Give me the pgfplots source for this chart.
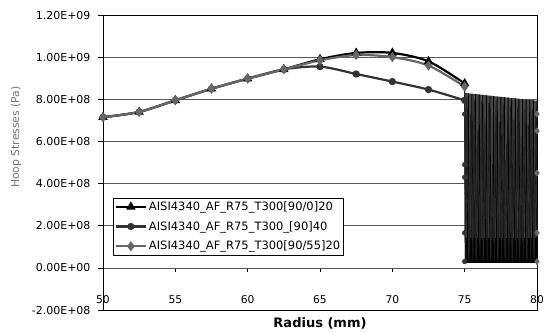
\documentclass[border=0pt]{standalone}
\usepackage{fontspec}
\setmainfont{DejaVu Sans}
\usepackage{pgfplots}
\pgfplotsset{compat=1.18}
\begin{document}
\begin{tikzpicture}
\useasboundingbox (-103bp,-23bp) rectangle (443bp,310bp);
% x axis drawn at y = 0
\begin{axis}[scale only axis, width=434bp, height=295bp, at={(0,0)}, anchor=south west,
  xmin=50, xmax=80, ymin=-2e8, ymax=1.2e9,
  axis x line=middle, axis y line=none,
  axis line style={-, black, line width=0.6bp},
  xtick={50,55,60,65,70,75,80}, tick align=outside, major tick length=4bp,
  tick style={black, line width=0.6bp},
  /pgf/number format/assume math mode=true,
  xticklabel style={font=\fontsize{10.7bp}{13bp}\selectfont, anchor=center, yshift=-28bp},
]
\end{axis}
\begin{axis}[scale only axis, width=434bp, height=295bp, at={(0,0)}, anchor=south west,
  xmin=50, xmax=80, ymin=-2e8, ymax=1.2e9,
  xtick=\empty,
  ytick={-2e8,0,2e8,4e8,6e8,8e8,1e9,1.2e9},
  yticklabels={-2.00E+08,0.00E+00,2.00E+08,4.00E+08,6.00E+08,8.00E+08,1.00E+09,1.20E+09},
  scaled y ticks=false,
  ytick pos=left, tick align=outside, major tick length=5bp,
  tick style={black, line width=0.6bp},
  ymajorgrids, grid style={black!65, line width=0.6bp},
  axis line style={black, line width=0.6bp},
  yticklabel style={font=\fontsize{11bp}{13bp}\selectfont, xshift=-4bp},
  every axis y label/.style={at={(axis description cs:-0.2,0.586)}, rotate=90, anchor=center,
     font=\fontsize{10.8bp}{13bp}\selectfont, text=black!55},
  ylabel={Hoop Stresses (Pa)},
  every axis x label/.style={at={(axis description cs:0.5,-0.047)}, anchor=center,
     font=\bfseries\fontsize{13bp}{15bp}\selectfont},
  xlabel={Radius (mm)},
  legend style={at={(0.023,0.38)}, anchor=north west, draw=black, line width=0.6bp, fill=white,
     font=\fontsize{11.5bp}{13bp}\selectfont, row sep=5.5bp, inner sep=1.5bp},
  legend cell align=left,
  legend image code/.code={\draw[mark repeat=2,mark phase=2,#1] plot coordinates {(0bp,0bp) (15bp,0bp) (30bp,0bp)};},
]
% envelope of the dense region 75-80 mm
\addplot[draw=none, fill=black!72, forget plot] coordinates {
(75,0.25e8) (75,8.3e8) (76,8.23e8) (77,8.15e8) (78,8.08e8) (79,8.01e8) (80,7.93e8) (80,0.25e8)} -- cycle;
\addplot[draw=none, fill=black, forget plot] coordinates {
(75,0.25e8) (75,1.4e8) (80,1.4e8) (80,0.25e8)} -- cycle;
% dense oscillating data 75-80 mm
\addplot[black, line width=0.9bp, forget plot] coordinates {
(75,8.75e8)
(75.0625,0.25e8) (75.125,1.4e8) (75.1875,0.25e8) (75.25,8.28e8)
(75.3125,0.25e8) (75.375,1.4e8) (75.4375,0.25e8) (75.5,8.26e8)
(75.5625,0.25e8) (75.625,1.4e8) (75.6875,0.25e8) (75.75,8.24e8)
(75.8125,0.25e8) (75.875,1.4e8) (75.9375,0.25e8) (76,8.23e8)
(76.0625,0.25e8) (76.125,1.4e8) (76.1875,0.25e8) (76.25,8.21e8)
(76.3125,0.25e8) (76.375,1.4e8) (76.4375,0.25e8) (76.5,8.19e8)
(76.5625,0.25e8) (76.625,1.4e8) (76.6875,0.25e8) (76.75,8.17e8)
(76.8125,0.25e8) (76.875,1.4e8) (76.9375,0.25e8) (77,8.15e8)
(77.0625,0.25e8) (77.125,1.4e8) (77.1875,0.25e8) (77.25,8.13e8)
(77.3125,0.25e8) (77.375,1.4e8) (77.4375,0.25e8) (77.5,8.12e8)
(77.5625,0.25e8) (77.625,1.4e8) (77.6875,0.25e8) (77.75,8.10e8)
(77.8125,0.25e8) (77.875,1.4e8) (77.9375,0.25e8) (78,8.08e8)
(78.0625,0.25e8) (78.125,1.4e8) (78.1875,0.25e8) (78.25,8.06e8)
(78.3125,0.25e8) (78.375,1.4e8) (78.4375,0.25e8) (78.5,8.04e8)
(78.5625,0.25e8) (78.625,1.4e8) (78.6875,0.25e8) (78.75,8.02e8)
(78.8125,0.25e8) (78.875,1.4e8) (78.9375,0.25e8) (79,8.01e8)
(79.0625,0.25e8) (79.125,1.4e8) (79.1875,0.25e8) (79.25,7.99e8)
(79.3125,0.25e8) (79.375,1.4e8) (79.4375,0.25e8) (79.5,7.97e8)
(79.5625,0.25e8) (79.625,1.4e8) (79.6875,0.25e8) (79.75,7.95e8)
(79.8125,0.25e8) (79.875,1.4e8) (79.9375,0.25e8) (80,7.93e8)
};
\addplot[black!90, line width=0.9bp, forget plot] coordinates {
(75,7.95e8)
(75.0625,0.3e8) (75.1875,7.6e8) (75.3125,0.3e8) (75.4375,6.8e8)
(75.5625,0.3e8) (75.6875,7.9e8) (75.8125,0.3e8) (75.9375,5.6e8)
(76.0625,0.3e8) (76.1875,7.4e8) (76.3125,0.3e8) (76.4375,6.3e8)
(76.5625,0.3e8) (76.6875,7.8e8) (76.8125,0.3e8) (76.9375,4.9e8)
(77.0625,0.3e8) (77.1875,7.2e8) (77.3125,0.3e8) (77.4375,6.6e8)
(77.5625,0.3e8) (77.6875,7.7e8) (77.8125,0.3e8) (77.9375,5.3e8)
(78.0625,0.3e8) (78.1875,7.3e8) (78.3125,0.3e8) (78.4375,6.1e8)
(78.5625,0.3e8) (78.6875,7.6e8) (78.8125,0.3e8) (78.9375,5.8e8)
(79.0625,0.3e8) (79.1875,7.0e8) (79.3125,0.3e8) (79.4375,6.4e8)
(79.5625,0.3e8) (79.6875,7.5e8) (79.8125,0.3e8) (79.9375,6.9e8)
};
\addplot[black!85, line width=0.9bp, forget plot] coordinates {
(75,8.6e8)
(75.03125,1.2e8) (75.15625,8.1e8) (75.28125,0.4e8) (75.40625,7.3e8)
(75.53125,1.3e8) (75.65625,8.0e8) (75.78125,0.5e8) (75.90625,6.5e8)
(76.03125,1.1e8) (76.15625,7.9e8) (76.28125,0.4e8) (76.40625,7.1e8)
(76.53125,1.3e8) (76.65625,7.8e8) (76.78125,0.5e8) (76.90625,4.5e8)
(77.03125,1.2e8) (77.15625,7.7e8) (77.28125,0.4e8) (77.40625,6.9e8)
(77.53125,1.3e8) (77.65625,7.8e8) (77.78125,0.5e8) (77.90625,5.9e8)
(78.03125,1.2e8) (78.15625,7.7e8) (78.28125,0.4e8) (78.40625,7.0e8)
(78.53125,1.3e8) (78.65625,7.6e8) (78.78125,0.5e8) (78.90625,6.2e8)
(79.03125,1.2e8) (79.15625,7.5e8) (79.28125,0.4e8) (79.40625,6.8e8)
(79.53125,1.3e8) (79.65625,7.4e8) (79.78125,0.5e8) (79.90625,7.3e8)
(80,1.66e8)
};
\addplot[black!60, only marks, mark=diamond*, mark size=3.2bp, forget plot] coordinates {
(80,7.3e8) (80,6.5e8) (80,4.5e8) (80,1.66e8) (80,0.3e8)};
\addplot[black!80, only marks, mark=*, mark size=2.4bp, forget plot] coordinates {
(75,7.3e8) (75,4.9e8) (75,4.3e8) (75,1.66e8) (75,0.3e8)};
% main curves
\addplot[black, line width=2.2bp, smooth, mark=triangle*, mark size=3.3bp] coordinates {
(50,7.15e8) (52.5,7.4e8) (55,7.95e8) (57.5,8.5e8) (60,8.98e8) (62.5,9.42e8)
(65,9.9e8) (67.5,1.02e9) (70,1.02e9) (72.5,9.8e8) (75,8.75e8)};
\addlegendentry{AISI4340\_AF\_R75\_T300[90/0]20}
\addplot[black!80, line width=2.2bp, smooth, mark=*, mark size=2.5bp] coordinates {
(50,7.15e8) (52.5,7.4e8) (55,7.95e8) (57.5,8.5e8) (60,8.98e8) (62.5,9.42e8)
(65,9.55e8) (67.5,9.2e8) (70,8.84e8) (72.5,8.46e8) (75,7.95e8)};
\addlegendentry{AISI4340\_AF\_R75\_T300\_[90]40}
\addplot[black!60, line width=2.2bp, smooth, mark=diamond*, mark size=3.3bp] coordinates {
(50,7.15e8) (52.5,7.4e8) (55,7.95e8) (57.5,8.5e8) (60,8.98e8) (62.5,9.42e8)
(65,9.85e8) (67.5,1.01e9) (70,1.0e9) (72.5,9.6e8) (75,8.6e8)};
\addlegendentry{AISI4340\_AF\_R75\_T300[90/55]20}
\end{axis}
\end{tikzpicture}
\end{document}
